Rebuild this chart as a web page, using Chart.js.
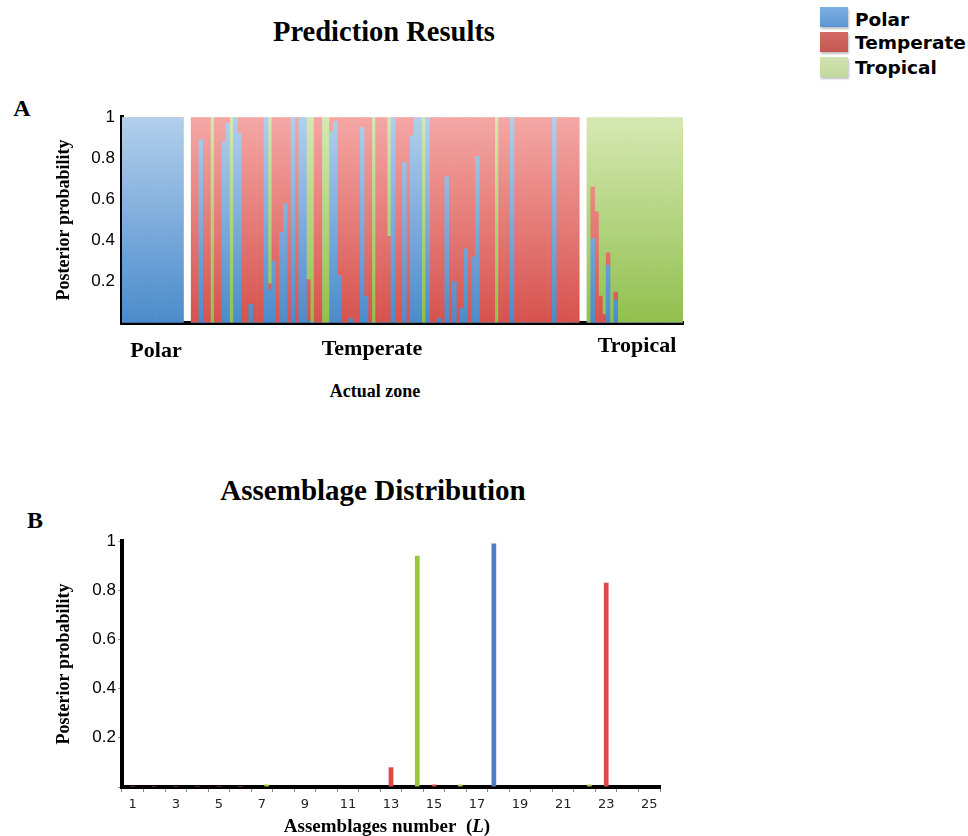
<!DOCTYPE html>
<html>
<head>
<meta charset="utf-8">
<title>Prediction Results</title>
<script src="https://cdn.jsdelivr.net/npm/chart.js@4.4.0/dist/chart.umd.min.js"></script>
<style>
  body { margin: 0; background: #fff; }
  #page { position: relative; width: 968px; height: 836px; overflow: hidden; font-family: 'Liberation Serif', 'Times New Roman', serif; color: #000; }
  .lbl { position: absolute; transform: translate(-50%, -50%); font-weight: bold; white-space: nowrap; }
  .chartBox { position: absolute; left: 0; }
  .swatch { position: absolute; left: 820px; width: 28px; height: 20px; box-shadow: 1px 2px 2px rgba(0,0,0,0.25); }
  .legTxt { position: absolute; left: 855px; font-family: 'DejaVu Sans', Arial, sans-serif; font-weight: bold; font-size: 18.5px; line-height: 20px; }
</style>
</head>
<body>
<div id="page">
  <!-- 凡例 -->
  <div class="swatch" style="top:7px;background:linear-gradient(#7fb0e2,#5b95d3);"></div>
  <div class="legTxt" style="top:10px;">Polar</div>
  <div class="swatch" style="top:32px;background:linear-gradient(#d46a66,#c65853);"></div>
  <div class="legTxt" style="top:33px;">Temperate</div>
  <div class="swatch" style="top:57px;background:linear-gradient(#d2e3b2,#c2d99c);"></div>
  <div class="legTxt" style="top:58px;">Tropical</div>

  <div class="lbl" style="left:384px;top:32px;font-size:28.5px;">Prediction Results</div>
  <div class="lbl" style="left:22px;top:108px;font-size:24px;">A</div>
  <div class="chartBox" style="top:100px;"><canvas id="predictionChart" width="700" height="240"></canvas></div>
  <div class="lbl" style="left:156px;top:350px;font-size:22px;">Polar</div>
  <div class="lbl" style="left:372px;top:348px;font-size:22px;">Temperate</div>
  <div class="lbl" style="left:637px;top:345px;font-size:22px;">Tropical</div>
  <div class="lbl" style="left:375px;top:391px;font-size:18px;">Actual zone</div>

  <div class="lbl" style="left:373px;top:490px;font-size:29px;">Assemblage Distribution</div>
  <div class="lbl" style="left:35px;top:520px;font-size:24px;">B</div>
  <div class="chartBox" style="top:520px;"><canvas id="assemblageChart" width="700" height="316"></canvas></div>
  <div class="lbl" style="left:387px;top:826px;font-size:19px;">Assemblages number&nbsp;&nbsp;(<i>L</i>)</div>
</div>

<script>
// A: 各サンプルの事後確率 (実際のゾーンごと)
const polarZoneBlue  = [1, 1, 1, 1, 1, 1, 1, 1, 1, 1, 1, 1, 1, 1, 1, 1];
const polarZoneRed   = [0, 0, 0, 0, 0, 0, 0, 0, 0, 0, 0, 0, 0, 0, 0, 0];
const polarZoneGreen = [0, 0, 0, 0, 0, 0, 0, 0, 0, 0, 0, 0, 0, 0, 0, 0];

const temperateZoneBlue = [
    0, 0, .89, 0, 0, 0, 0, 0, .88, .97,
    0, 1, .92, 0, 0, .09, 0, 0, 0, 1,
    .16, .30, 0, .44, .58, 0, 1, 0, 1, 1,
    .01, 0, 0, 0, 0, 0, .93, .98, .23, 0,
    0, .02, 0, 0, .95, .13, 0, 0, 0, 0,
    0, 0, 1, 0, 0, .78, 0, .91, 1, 1,
    0, 1, 0, 0, .02, 0, .71, 0, .20, 0,
    .07, .36, 0, .32, .81, 0, 0, 0, 0, 0,
    0, 0, 0, 1, 0, 0, 0, 0, 0, 0,
    0, 0, 0, 0, 1, 0, 0, 0, 0, 0,
    0
];
const temperateZoneRed = [
    1, 1, .11, 1, 1, 0, 1, 1, .12, .03,
    0, 0, .08, 1, 1, .91, 1, 1, 1, 0,
    .03, .70, 1, .56, .42, 1, 0, 1, 0, 0,
    .20, 0, 1, 1, 0, 0, .07, .02, .77, 1,
    1, .98, 1, 1, .05, .87, 1, 0, 1, 1,
    1, .42, 0, 1, 1, .22, 1, .09, 0, 0,
    0, 0, 1, 1, .98, 1, .29, 1, .80, 1,
    .93, .64, 1, .68, .19, 1, 1, 1, 1, 0,
    1, 1, 1, 0, 1, 1, 1, 1, 1, 1,
    1, 1, 1, 1, 0, 1, 1, 1, 1, 1,
    1
];
const temperateZoneGreen = [
    0, 0, 0, 0, 0, 1, 0, 0, 0, 0,
    1, 0, 0, 0, 0, 0, 0, 0, 0, 0,
    .81, 0, 0, 0, 0, 0, 0, 0, 0, 0,
    .79, 1, 0, 0, 1, 1, 0, 0, 0, 0,
    0, 0, 0, 0, 0, 0, 0, 1, 0, 0,
    0, .58, 0, 0, 0, 0, 0, 0, 0, 0,
    1, 0, 0, 0, 0, 0, 0, 0, 0, 0,
    0, 0, 0, 0, 0, 0, 0, 0, 0, 1,
    0, 0, 0, 0, 0, 0, 0, 0, 0, 0,
    0, 0, 0, 0, 0, 0, 0, 0, 0, 0,
    0
];

const tropicalZoneBlue  = [0, .41, 0, 0, 0, .28, 0, .11, 0, 0, 0, 0, 0, 0, 0, 0, 0, 0, 0, 0, 0, 0, 0, 0, 0];
const tropicalZoneRed   = [0, .25, .54, .13, .04, .06, 0, .04, 0, 0, 0, 0, 0, 0, 0, 0, 0, 0, 0, 0, 0, 0, 0, 0, 0];
const tropicalZoneGreen = [1, .34, .46, .87, .96, .66, 1, .85, 1, 1, 1, 1, 1, 1, 1, 1, 1, 1, 1, 1, 1, 1, 1, 1, 1];

const zoneGap = [null, null];

// B: アセンブラージ番号ごとの事後確率
const assemblageNumbers = ['1', '2', '3', '4', '5', '6', '7', '8', '9', '10', '11', '12', '13',
    '14', '15', '16', '17', '18', '19', '20', '21', '22', '23', '24', '25'];
const assemblagePolar     = [0, 0, 0, 0, 0, 0, 0, 0, 0, 0, 0, 0, 0, 0, 0, 0, 0, .99, 0, 0, 0, 0, 0, 0, 0];
const assemblageTemperate = [.004, .004, .004, .004, .004, .004, 0, 0, 0, 0, 0, 0, .08, 0, .01, 0, 0, 0, 0, 0, 0, 0, .83, 0, 0];
const assemblageTropical  = [0, 0, 0, 0, 0, 0, .01, 0, 0, 0, 0, 0, 0, .94, 0, .01, 0, 0, 0, 0, 0, .01, 0, 0, 0];

const sampleBlue  = [...polarZoneBlue, ...zoneGap, ...temperateZoneBlue, ...zoneGap, ...tropicalZoneBlue];
const sampleRed   = [...polarZoneRed, ...zoneGap, ...temperateZoneRed, ...zoneGap, ...tropicalZoneRed];
const sampleGreen = [...polarZoneGreen, ...zoneGap, ...temperateZoneGreen, ...zoneGap, ...tropicalZoneGreen];
const sampleLabels = sampleBlue.map((v, i) => String(i + 1));

const serifBold = { family: "'Liberation Serif', 'Times New Roman', serif", size: 18, weight: 'bold' };
const tickFont = { family: "'Liberation Sans', Arial, sans-serif", size: 17 };

// 縦方向グラデーション
function vGrad(top, bottom) {
    return function(context) {
        const chart = context.chart;
        const area = chart.chartArea;
        if (!area) return bottom;
        const g = chart.ctx.createLinearGradient(0, area.top, 0, area.bottom);
        g.addColorStop(0, top);
        g.addColorStop(1, bottom);
        return g;
    };
}

function probLabel(value) {
    if (Math.abs(value) < 1e-9) return '';
    return String(Math.round(value * 10) / 10);
}

new Chart(document.getElementById('predictionChart'), {
    type: 'bar',
    data: {
        labels: sampleLabels,
        datasets: [
            { label: 'Polar', data: sampleBlue, backgroundColor: vGrad('#b2cfec', '#4b8bcb') },
            { label: 'Temperate', data: sampleRed, backgroundColor: vGrad('#f4a7a5', '#d6524d') },
            { label: 'Tropical', data: sampleGreen, backgroundColor: vGrad('#d6e8b2', '#90c04e') }
        ]
    },
    options: {
        responsive: false,
        animation: false,
        datasets: { bar: { barPercentage: 1, categoryPercentage: 1, borderWidth: 0 } },
        layout: { padding: { top: 16, right: 17, left: 0, bottom: 0 } },
        plugins: { legend: { display: false }, tooltip: { enabled: false } },
        scales: {
            x: {
                stacked: true,
                z: 1,
                grid: { display: false, drawTicks: false },
                ticks: { display: false },
                border: { color: '#000', width: 4 },
                afterFit: function(scale) { scale.height = 15; }
            },
            y: {
                stacked: true,
                z: 1,
                min: 0,
                max: 1,
                grid: { display: false, drawTicks: false },
                border: { color: '#000', width: 4 },
                ticks: { stepSize: 0.2, padding: 7, color: '#000', font: tickFont, callback: probLabel },
                title: { display: true, text: 'Posterior probability', color: '#000', font: serifBold, padding: { top: 54, bottom: 0 } },
                afterFit: function(scale) { scale.width = 122; }
            }
        }
    }
});

new Chart(document.getElementById('assemblageChart'), {
    type: 'bar',
    data: {
        labels: assemblageNumbers,
        datasets: [
            { label: 'Polar', data: assemblagePolar, backgroundColor: '#4f7ec6' },
            { label: 'Temperate', data: assemblageTemperate, backgroundColor: '#e04848' },
            { label: 'Tropical', data: assemblageTropical, backgroundColor: '#9cc63c' }
        ]
    },
    options: {
        responsive: false,
        animation: false,
        datasets: { bar: { barPercentage: 1, categoryPercentage: 0.66, borderWidth: 0 } },
        layout: { padding: { top: 21, right: 40, left: 0, bottom: 0 } },
        plugins: { legend: { display: false }, tooltip: { enabled: false } },
        scales: {
            x: {
                z: 1,
                grid: { display: true, drawOnChartArea: false, tickLength: 5, color: '#888' },
                border: { color: '#000', width: 4 },
                ticks: {
                    autoSkip: false,
                    maxRotation: 0,
                    padding: 5,
                    color: '#222',
                    font: { family: "'DejaVu Sans', Verdana, sans-serif", size: 13 },
                    callback: function(value, index) {
                        return index % 2 === 0 ? assemblageNumbers[index] : '';
                    }
                },
                afterFit: function(scale) { scale.height = 49; }
            },
            y: {
                z: 1,
                min: 0,
                max: 1,
                grid: { display: true, drawOnChartArea: false, tickLength: 4, color: '#999' },
                border: { color: '#000', width: 4 },
                ticks: { stepSize: 0.2, padding: 2, color: '#000', font: tickFont, callback: probLabel },
                title: { display: true, text: 'Posterior probability', color: '#000', font: serifBold, padding: { top: 54, bottom: 0 } },
                afterFit: function(scale) { scale.width = 122; }
            }
        }
    }
});
</script>
</body>
</html>
